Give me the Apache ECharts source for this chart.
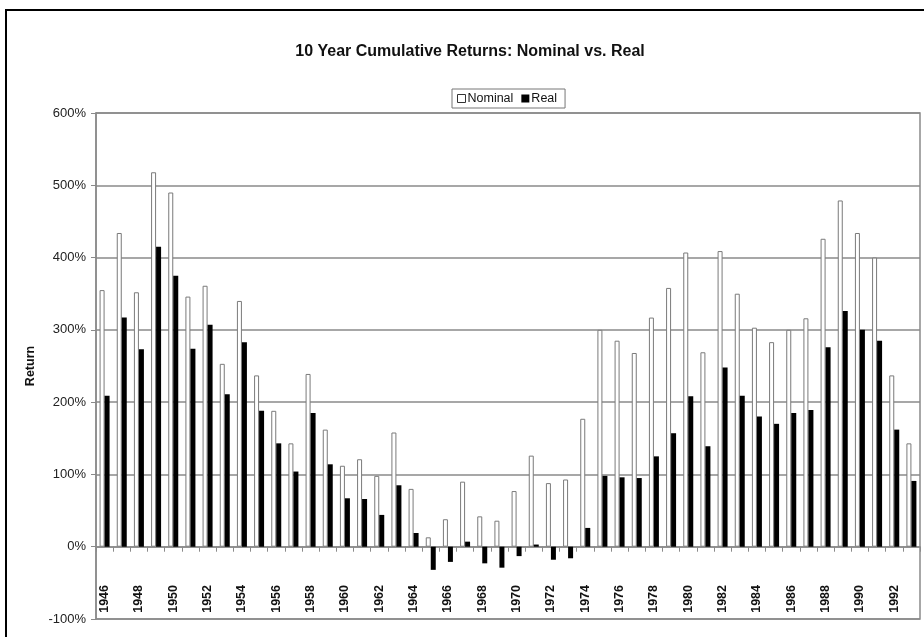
<!DOCTYPE html>
<html>
<head>
<meta charset="utf-8">
<script src="https://cdn.jsdelivr.net/npm/echarts@6/dist/echarts.min.js"></script>
<style>
  html, body { margin: 0; padding: 0; background: #fff; }
  #chart { width: 924px; height: 637px; }
</style>
</head>
<body>
<div id="chart"></div>
<script>
// Rolling ten-year cumulative returns, in percent, by starting year
var years = [
  '1946','1947','1948','1949','1950','1951','1952','1953','1954','1955',
  '1956','1957','1958','1959','1960','1961','1962','1963','1964','1965',
  '1966','1967','1968','1969','1970','1971','1972','1973','1974','1975',
  '1976','1977','1978','1979','1980','1981','1982','1983','1984','1985',
  '1986','1987','1988','1989','1990','1991','1992','1993'
];
var nominal = [
  355, 434, 352, 518, 490, 346, 361, 253, 340, 237,
  188, 143, 239, 162, 112, 121, 98, 158, 80, 13,
  38, 90, 42, 36, 77, 126, 88, 93, 177, 300,
  285, 268, 317, 358, 407, 269, 409, 350, 303, 283,
  300, 316, 426, 479, 434, 400, 237, 143
];
var real = [
  209, 317, 273, 415, 375, 274, 307, 211, 283, 188,
  143, 104, 185, 114, 67, 66, 44, 85, 19, -32,
  -21, 7, -23, -29, -13, 3, -18, -16, 26, 98,
  96, 95, 125, 157, 208, 139, 248, 209, 180, 170,
  185, 189, 276, 326, 300, 285, 162, 91
];
var yTicks = { min: -100, max: 600, step: 100 };

var fontFam = '"Liberation Sans", Arial, sans-serif';
var gridGray = '#8a8a8a';

var chart = echarts.init(document.getElementById('chart'), null, { renderer: 'canvas' });
chart.setOption({
  backgroundColor: '#ffffff',
  animation: false,
  graphic: [{
    type: 'rect',
    shape: { x: 6, y: 10, width: 960, height: 660 },
    style: { fill: 'none', stroke: '#000', lineWidth: 2 },
    silent: true
  }],
  title: {
    text: '10 Year Cumulative Returns: Nominal vs. Real',
    left: 465,
    top: 39,
    textAlign: 'center',
    textStyle: { fontFamily: fontFam, fontSize: 16, fontWeight: 'bold', color: '#111' }
  },
  legend: {
    left: 452,
    top: 89,
    itemWidth: 8,
    itemHeight: 8,
    itemGap: 8,
    padding: [3, 8, 3, 5],
    borderColor: '#777',
    borderWidth: 1,
    icon: 'rect',
    textStyle: { fontFamily: fontFam, fontSize: 12.5, color: '#111', padding: [0, 0, 0, -3] },
    data: [
      { name: 'Nominal', itemStyle: { color: '#fff', borderColor: '#333', borderWidth: 1 } },
      { name: 'Real', itemStyle: { color: '#000' } }
    ]
  },
  grid: {
    left: 96, right: 4, top: 113, bottom: 18,
    outerBoundsMode: 'none',
    containLabel: false,
    show: true, borderColor: gridGray, borderWidth: 1.5, backgroundColor: '#fff'
  },
  xAxis: {
    type: 'category',
    data: years,
    boundaryGap: true,
    axisLine: { onZero: true, lineStyle: { color: gridGray, width: 1.5 } },
    axisTick: { show: true, interval: 0, length: 5, lineStyle: { color: gridGray } },
    axisLabel: {
      interval: 1, rotate: 90, margin: -34,
      fontFamily: fontFam, fontSize: 12.5, fontWeight: 'bold', color: '#111'
    },
    splitLine: { show: false }
  },
  yAxis: {
    type: 'value',
    min: yTicks.min, max: yTicks.max, interval: yTicks.step,
    name: 'Return',
    nameLocation: 'middle',
    nameGap: 44,
    nameTextStyle: { fontFamily: fontFam, fontSize: 12.5, fontWeight: 'bold', color: '#111' },
    axisLine: { show: true, lineStyle: { color: gridGray, width: 1.5 } },
    axisTick: { show: true, length: 5, lineStyle: { color: gridGray } },
    axisLabel: {
      formatter: '{value}%', margin: 10,
      fontFamily: fontFam, fontSize: 13, color: '#222'
    },
    splitLine: { show: true, lineStyle: { color: gridGray, width: 1.5 } }
  },
  series: [
    {
      name: 'Nominal', type: 'bar', data: nominal,
      barWidth: 5, barGap: '0%',
      itemStyle: { color: '#fff', borderColor: '#7a7a7a', borderWidth: 1 }
    },
    {
      name: 'Real', type: 'bar', data: real,
      barWidth: 5,
      itemStyle: { color: '#000' }
    }
  ]
});
</script>
</body>
</html>
